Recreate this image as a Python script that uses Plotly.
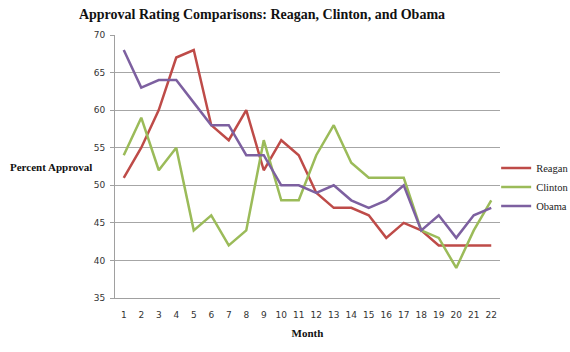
import plotly.graph_objects as go

months = list(range(1, 23))
reagan = [51, 55, 60, 67, 68, 58, 56, 60, 52, 56, 54, 49, 47, 47, 46, 43, 45, 44, 42, 42, 42, 42]
clinton = [54, 59, 52, 55, 44, 46, 42, 44, 56, 48, 48, 54, 58, 53, 51, 51, 51, 44, 43, 39, 44, 48]
obama = [68, 63, 64, 64, 61, 58, 58, 54, 54, 50, 50, 49, 50, 48, 47, 48, 50, 44, 46, 43, 46, 47]

series = [("Reagan", reagan, "#BE4B48"), ("Clinton", clinton, "#9BBB59"), ("Obama", obama, "#7D60A0")]

fig = go.Figure()
for name, vals, col in series:
    fig.add_trace(go.Scatter(x=months, y=vals, name=name, mode="lines",
                             line=dict(color=col, width=2.5)))

serif = "Liberation Serif"
fig.update_layout(
    width=570, height=352,
    margin=dict(l=115, r=70, t=35, b=54, autoexpand=False),
    paper_bgcolor="white", plot_bgcolor="white",
    title=dict(text="<b>Approval Rating Comparisons: Reagan, Clinton, and Obama</b>",
               x=262/570, xref="container", xanchor="center", y=1 - 14/352, yanchor="middle",
               font=dict(family=serif, size=14, color="#111")),
    showlegend=True,
    legend=dict(x=0.99, xanchor="left", y=(298-187)/263, yanchor="middle",
                font=dict(family=serif, size=10.5, color="#222"),
                tracegroupgap=0, itemwidth=30, bgcolor="rgba(0,0,0,0)"),
    font=dict(family="DejaVu Sans", size=9, color="#333"),
)
fig.update_xaxes(range=[0.5, 22.5], tickmode="array", tickvals=months, ticktext=[str(m) for m in months],
                 showgrid=False, showline=True, linecolor="#A0A0A0", linewidth=1, ticks="",
                 ticklabelstandoff=8,
                 tickfont=dict(family="DejaVu Sans", size=9, color="#333"),
                 title=dict(text="<b>Month</b>", font=dict(family=serif, size=11, color="#111"), standoff=10),
                 zeroline=False)
fig.update_yaxes(range=[35, 70], dtick=5, showgrid=True, gridcolor="#A6A6A6", gridwidth=1,
                 showline=True, linecolor="#A0A0A0", linewidth=1, ticks="outside", ticklen=4,
                 tickcolor="#A0A0A0", tickfont=dict(family="DejaVu Sans", size=9, color="#333"),
                 ticklabelstandoff=3, zeroline=False)
fig.add_annotation(text="<b>Percent Approval</b>", xref="paper", yref="paper",
                   x=-115/385 + 8/385, xanchor="left", y=(298-167)/263, yanchor="middle",
                   showarrow=False, font=dict(family=serif, size=11, color="#111"))

fig.write_html("out.html")
